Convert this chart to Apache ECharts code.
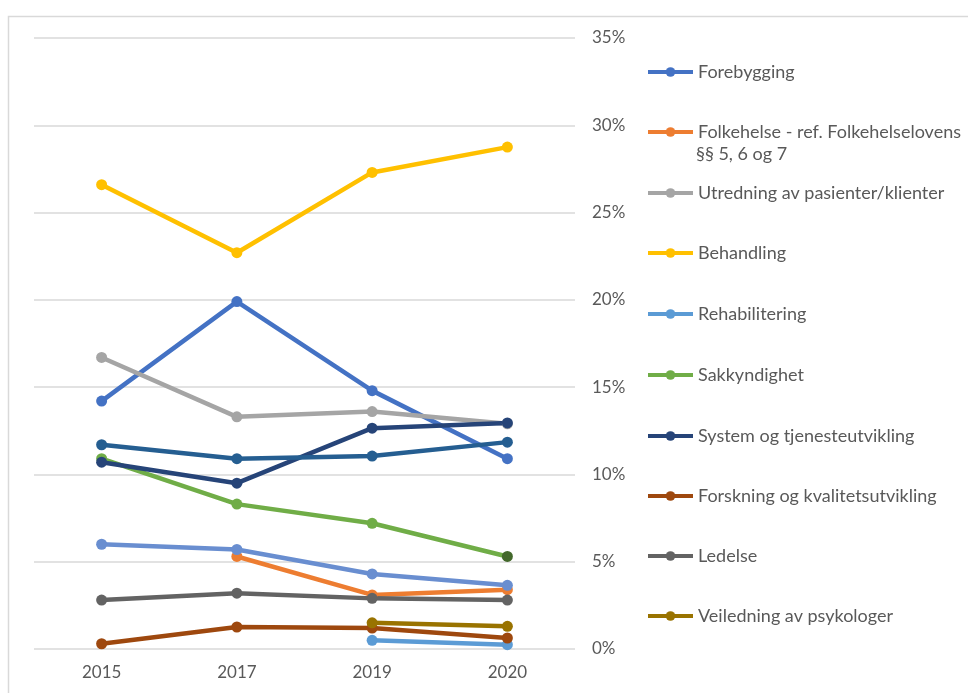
<!DOCTYPE html>
<html><head><meta charset="utf-8">
<script src="https://cdn.jsdelivr.net/npm/echarts@6/dist/echarts.min.js"></script>
<style>html,body{margin:0;padding:0;background:#fff}#c{width:968px;height:693px}</style>
</head><body><div id="c"></div>
<script>
const years = ['2015', '2017', '2019', '2020'];
const yTicks = [0, 5, 10, 15, 20, 25, 30, 35];

const forebygging = [14.2, 19.9, 14.8, 10.9];
const folkehelse = [null, 5.3, 3.1, 3.4];
const utredning = [16.7, 13.3, 13.6, 12.9];
const behandling = [26.6, 22.7, 27.3, 28.75];
const rehabilitering = [null, null, 0.5, 0.25];
const sakkyndighet = [10.9, 8.3, 7.2, 5.3];
const system = [10.7, 9.5, 12.65, 12.95];
const forskning = [0.3, 1.26, 1.2, 0.63];
const ledelse = [2.8, 3.2, 2.9, 2.8];
const veiledning = [null, null, 1.5, 1.3];
const unlistedTeal = [11.7, 10.9, 11.05, 11.85];
const unlistedLightBlue = [6.0, 5.7, 4.3, 3.65];

const names = ['Forebygging', 'Folkehelse - ref. Folkehelselovens', 'Utredning av pasienter/klienter',
  'Behandling', 'Rehabilitering', 'Sakkyndighet', 'System og tjenesteutvikling',
  'Forskning og kvalitetsutvikling', 'Ledelse', 'Veiledning av psykologer'];
const seriesValues = [forebygging, folkehelse, utredning, behandling, rehabilitering,
  sakkyndighet, system, forskning, ledelse, veiledning];
const colors = ['#4472C4', '#ED7D31', '#A5A5A5', '#FFC000', '#5B9BD5', '#70AD47',
  '#264478', '#9E480E', '#636363', '#997300'];

const legendCenters = [72, 132, 193, 253, 314, 375, 436, 496, 556, 616];

function mkSeries(name, data, color) {
  return {
    name: name, type: 'line', data: data, color: color,
    symbol: 'circle', symbolSize: 11,
    lineStyle: { width: 4.5, color: color },
    itemStyle: { color: color },
    connectNulls: false, animation: false
  };
}

const series = names.map((n, i) => {
  let data = seriesValues[i];
  if (n === 'Sakkyndighet') {
    data = data.map((v, j) => j === 3 ? { value: v, itemStyle: { color: '#43682B' } } : v);
  }
  return mkSeries(n, data, colors[i]);
});
series.push(mkSeries('_teal', unlistedTeal, '#255E91'));
series.push(mkSeries('_lightblue', unlistedLightBlue, '#698ED0'));

const textColor = '#595959';
const font = 'Lato, "Open Sans", sans-serif';

const legends = names.map((n, i) => ({
  data: [n], orient: 'vertical', left: 646, top: legendCenters[i] - 9,
  padding: 0, itemWidth: 45, itemHeight: 12, itemGap: 0,
  lineStyle: { width: 4 },
  textStyle: { color: textColor, fontSize: 18, lineHeight: 18, fontFamily: font },
  selectedMode: false
}));

const chart = echarts.init(document.getElementById('c'));
chart.setOption({
  backgroundColor: '#fff',
  animation: false,
  grid: { left: 34, right: 393, top: 38, bottom: 44 },
  xAxis: {
    type: 'category', data: years, boundaryGap: true,
    axisLine: { show: false }, axisTick: { show: false },
    axisLabel: { color: textColor, fontSize: 17, fontFamily: font, margin: 15 }
  },
  yAxis: {
    type: 'value', position: 'right', min: yTicks[0], max: yTicks[yTicks.length - 1], interval: 5,
    axisLine: { show: false }, axisTick: { show: false },
    axisLabel: { color: textColor, fontSize: 17, fontFamily: font, margin: 17, formatter: '{value}%' },
    splitLine: { lineStyle: { color: '#D9D9D9', width: 1.5 } }
  },
  legend: legends,
  graphic: [
    { type: 'rect', left: 6, top: 14, shape: { width: 1000, height: 700 },
      style: { fill: 'none', stroke: '#D9D9D9', lineWidth: 1.5 }, silent: true, z: -10 },
    { type: 'text', left: 696, top: 145,
      style: { text: '§§ 5, 6 og 7', fill: textColor, font: '18px ' + font } }
  ],
  series: series
});
</script></body></html>
